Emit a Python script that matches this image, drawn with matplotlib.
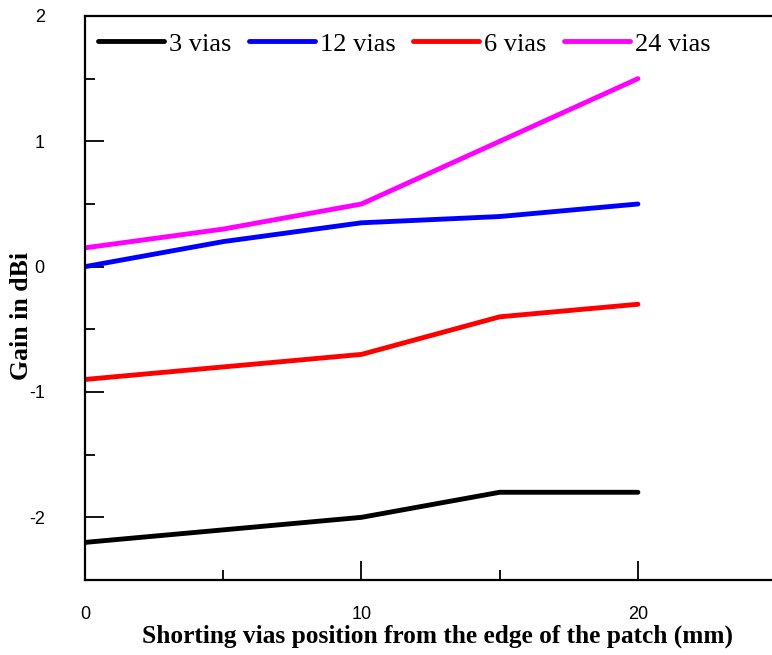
import matplotlib
matplotlib.use("Agg")
import matplotlib.pyplot as plt
from matplotlib.ticker import MultipleLocator

plt.rcParams['axes.unicode_minus'] = False

x_pos = [0, 5, 10, 15, 20]
gain_3 = [-2.2, -2.1, -2.0, -1.8, -1.8]
gain_12 = [0.0, 0.2, 0.35, 0.4, 0.5]
gain_6 = [-0.9, -0.8, -0.7, -0.4, -0.3]
gain_24 = [0.15, 0.3, 0.5, 1.0, 1.5]

series_labels = ["3 vias", "12 vias", "6 vias", "24 vias"]
series_colors = ["black", "#0000ff", "#ff0000", "#ff00ff"]
x_ticks = [0, 10, 20]
y_ticks = [-2, -1, 0, 1, 2]

fig = plt.figure(figsize=(7.72, 6.55), dpi=100)
ax = fig.add_axes([85/772, 75/655, 1 - 85/772, 564/655])

for ys, lab, c in zip([gain_3, gain_12, gain_6, gain_24], series_labels, series_colors):
    ax.plot(x_pos, ys, color=c, lw=3.5, label=lab, solid_capstyle='round')

ax.set_xlim(0, 24.85)
ax.set_ylim(-2.5, 2)
ax.set_xticks(x_ticks)
ax.xaxis.set_minor_locator(MultipleLocator(5))
ax.set_yticks(y_ticks)
ax.yaxis.set_minor_locator(MultipleLocator(0.5))

ax.tick_params(axis='both', which='both', direction='in', width=1.3)
ax.tick_params(axis='both', which='major', length=14)
ax.tick_params(axis='both', which='minor', length=7)
ax.tick_params(axis='x', which='major', pad=19, labelsize=13)
ax.tick_params(axis='y', which='major', pad=29, labelsize=13)
for lbl in ax.get_xticklabels() + ax.get_yticklabels():
    lbl.set_family('Liberation Sans')

ax.spines['right'].set_visible(False)
for s in ['left', 'top', 'bottom']:
    ax.spines[s].set_linewidth(1.6)

ax.set_xlabel("Shorting vias position from the edge of the patch (mm)",
              family='Liberation Serif', fontweight='bold', fontsize=18.3)
ax.xaxis.set_label_coords((437 - 85) / 687, (580 - 636) / 564)
ax.xaxis.label.set_va('center')
ax.set_ylabel("Gain in dBi", family='Liberation Serif', fontweight='bold', fontsize=18.5)
ax.yaxis.set_label_coords((22 - 85) / 687, (580 - 316) / 564)
ax.yaxis.label.set_va('center')

leg = ax.legend(loc='center left', ncol=4, frameon=False,
                prop={'family': 'Liberation Serif', 'size': 19},
                handlelength=2.5, handletextpad=0.2, columnspacing=0.65,
                borderpad=0.0, borderaxespad=0.0,
                bbox_to_anchor=(98 / 772, (655 - 44) / 655),
                bbox_transform=fig.transFigure)

fig.savefig("out.png", dpi=100)
